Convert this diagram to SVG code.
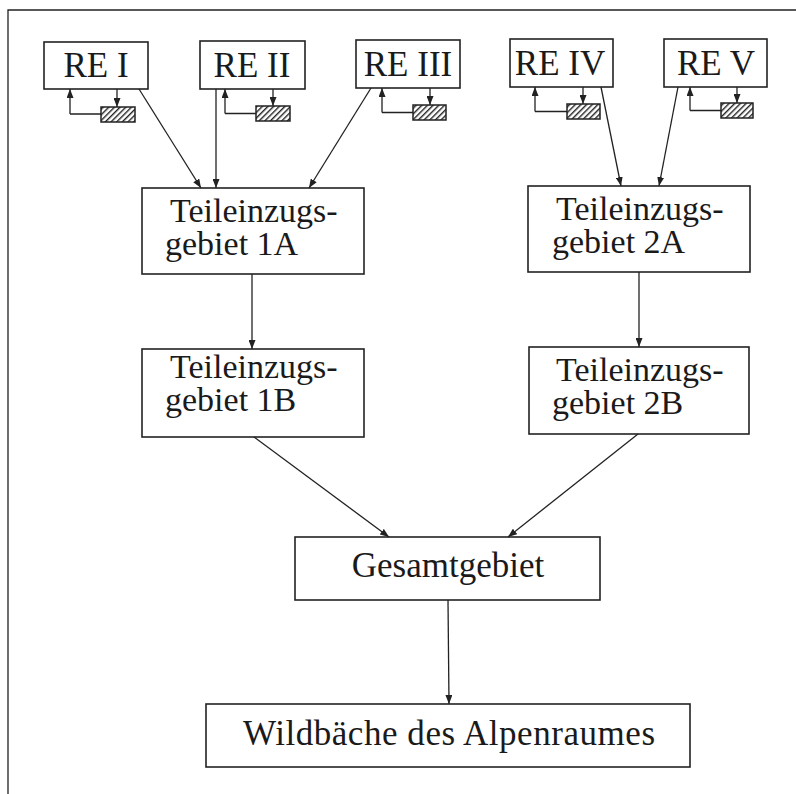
<svg xmlns="http://www.w3.org/2000/svg" width="796" height="794" viewBox="0 0 796 794">
<style>
.box{fill:#fff;stroke:#222;stroke-width:1.6}
.hb{fill:url(#hatch);stroke:#222;stroke-width:1.5}
.t{font-family:"Liberation Serif","Times New Roman",serif;font-size:35px;fill:#1a1a1a}
.t2{font-size:34px}
.c{text-anchor:middle}
.ln{fill:none;stroke:#222;stroke-width:1.3}
</style>
<defs>
<marker id="ah" markerUnits="userSpaceOnUse" markerWidth="10" markerHeight="7" refX="9" refY="3.5" orient="auto">
<path d="M0,0 L9,3.5 L0,7 z" fill="#222"/>
</marker>
<pattern id="hatch" patternUnits="userSpaceOnUse" width="4" height="4" patternTransform="rotate(45)">
<rect width="4" height="4" fill="#fff"/>
<line x1="0" y1="0" x2="0" y2="4" stroke="#222" stroke-width="2.8"/>
</pattern>
</defs>
<rect width="796" height="794" fill="#fff"/>
<g id="frame"><path class="ln" d="M8,794 L8,10 L796,10" stroke-width="1.6"/></g>

<g id="re1"><rect class="box" x="44" y="42" width="104" height="47"/><text class="t c" x="96" y="77" font-size="36">RE I</text></g>
<g id="re2"><rect class="box" x="200" y="41" width="105" height="48"/><text class="t c" x="252" y="77" font-size="36">RE II</text></g>
<g id="re3"><rect class="box" x="356" y="40" width="104" height="48"/><text class="t c" x="408" y="76" font-size="36">RE III</text></g>
<g id="re4"><rect class="box" x="510" y="39" width="103" height="48"/><text class="t c" x="560" y="75" font-size="36">RE IV</text></g>
<g id="re5"><rect class="box" x="664" y="39" width="103" height="48"/><text class="t c" x="716" y="75" font-size="36">RE V</text></g>

<g id="h1"><rect class="hb" x="101" y="107" width="34" height="15"/></g>
<g id="h2"><rect class="hb" x="256" y="106" width="34" height="15"/></g>
<g id="h3"><rect class="hb" x="413" y="105" width="33" height="15"/></g>
<g id="h4"><rect class="hb" x="567" y="104" width="33" height="15"/></g>
<g id="h5"><rect class="hb" x="721" y="103" width="32" height="15"/></g>

<g id="t1a"><rect class="box" x="142" y="188" width="222" height="86"/><text class="t t2"><tspan x="170" y="222">Teileinzugs-</tspan><tspan x="165" y="255">gebiet 1A</tspan></text></g>
<g id="t2a"><rect class="box" x="528" y="186" width="222" height="86"/><text class="t t2"><tspan x="556" y="220">Teileinzugs-</tspan><tspan x="552" y="253">gebiet 2A</tspan></text></g>
<g id="t1b"><rect class="box" x="142" y="349" width="222" height="88"/><text class="t t2"><tspan x="170" y="378">Teileinzugs-</tspan><tspan x="165" y="411">gebiet 1B</tspan></text></g>
<g id="t2b"><rect class="box" x="529" y="347" width="220" height="87"/><text class="t t2"><tspan x="556" y="381">Teileinzugs-</tspan><tspan x="552" y="414">gebiet 2B</tspan></text></g>

<g id="ges"><rect class="box" x="295" y="537" width="305" height="63"/><text class="t c" x="448" y="577">Gesamtgebiet</text></g>
<g id="wild"><rect class="box" x="206" y="704" width="484" height="63"/><text class="t c" x="449" y="745" textLength="412">Wildbäche des Alpenraumes</text></g>

<g id="connectors">
<path class="ln" d="M70,114 L101,114 M70,114 L70,89" marker-end="url(#ah)"/>
<line class="ln" x1="117" y1="89" x2="117" y2="107" marker-end="url(#ah)"/>
<path class="ln" d="M225,113.5 L256,113.5 M225,113.5 L225,89" marker-end="url(#ah)"/>
<line class="ln" x1="273" y1="89" x2="273" y2="106" marker-end="url(#ah)"/>
<path class="ln" d="M382,112.5 L413,112.5 M382,112.5 L382,88" marker-end="url(#ah)"/>
<line class="ln" x1="430" y1="88" x2="430" y2="105" marker-end="url(#ah)"/>
<path class="ln" d="M535,111.5 L567,111.5 M535,111.5 L535,87" marker-end="url(#ah)"/>
<line class="ln" x1="583" y1="87" x2="583" y2="104" marker-end="url(#ah)"/>
<path class="ln" d="M690,110.5 L721,110.5 M690,110.5 L690,87" marker-end="url(#ah)"/>
<line class="ln" x1="737" y1="87" x2="737" y2="103" marker-end="url(#ah)"/>

<line class="ln" x1="139" y1="89" x2="201" y2="188" marker-end="url(#ah)"/>
<line class="ln" x1="216" y1="89" x2="216" y2="188" marker-end="url(#ah)"/>
<line class="ln" x1="371" y1="88" x2="309" y2="188" marker-end="url(#ah)"/>
<line class="ln" x1="601" y1="87" x2="621" y2="186" marker-end="url(#ah)"/>
<line class="ln" x1="678" y1="87" x2="659" y2="186" marker-end="url(#ah)"/>

<line class="ln" x1="252" y1="274" x2="252" y2="349" marker-end="url(#ah)"/>
<line class="ln" x1="639" y1="272" x2="639" y2="347" marker-end="url(#ah)"/>
<line class="ln" x1="254" y1="437" x2="389" y2="537" marker-end="url(#ah)"/>
<line class="ln" x1="638" y1="434" x2="508" y2="537" marker-end="url(#ah)"/>
<line class="ln" x1="448" y1="600" x2="449" y2="704" marker-end="url(#ah)"/>
</g>
</svg>
